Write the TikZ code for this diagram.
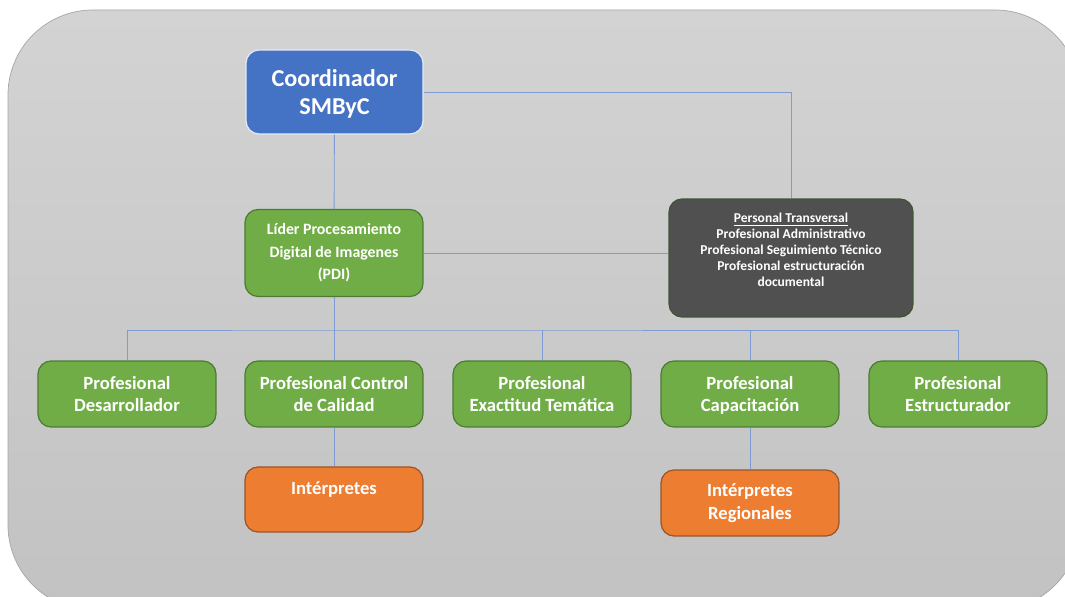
\documentclass[tikz,border=0pt]{standalone}
\usepackage{fontspec}
\setmainfont{Carlito}
\usetikzlibrary{positioning}

\definecolor{coordblue}{HTML}{4472C4}
\definecolor{leafgreen}{HTML}{70AD47}
\definecolor{leafedge}{HTML}{4E7B33}
\definecolor{transgray}{HTML}{505050}
\definecolor{transedge}{HTML}{3F5530}
\definecolor{interorange}{HTML}{ED7D31}
\definecolor{interedge}{HTML}{9A5528}
\definecolor{linkblue}{HTML}{7D9CD4}
\definecolor{bgtop}{HTML}{D3D3D3}
\definecolor{bgbottom}{HTML}{C2C2C2}

\tikzset{
    orgbox/.style={rounded corners=0.26cm, align=center, text=white,
        font=\bfseries, line width=0.7pt, inner sep=0pt},
    leafbox/.style={orgbox, fill=leafgreen, draw=leafedge,
        minimum width=3.56cm, minimum height=1.32cm,
        font=\fontsize{10.6}{13}\selectfont\bfseries},
    link/.style={draw=linkblue, line width=0.5pt}
}

\begin{document}
\begin{tikzpicture}[x=0.02cm, y=-0.02cm]

    % Frame
    \useasboundingbox (0,0) rectangle (1065,597);
    \begin{scope}
        \clip (0,0) rectangle (1065,597);
        \shade[top color=bgtop, bottom color=bgbottom, draw=gray!70,
            rounded corners=1.7cm] (8,10) rectangle (1080,610);
    \end{scope}

    % Top level
    \node[orgbox, fill=coordblue, draw=white!85!coordblue,
        minimum width=3.54cm, minimum height=1.68cm, text depth=0pt,
        font=\fontsize{13.8}{16}\selectfont\bfseries]
        (coord) at (334.5,92) {Coordinador\\SMByC};

    % Second level
    \node[leafbox, minimum height=1.74cm,
        font=\fontsize{9}{12.8}\selectfont\bfseries]
        (lider) at (334,253) {Líder Procesamiento\\Digital de Imagenes\\(PDI)};
    \node[orgbox, fill=transgray, draw=transedge,
        minimum width=4.88cm, minimum height=2.36cm,
        font=\fontsize{7.7}{9.2}\selectfont\bfseries]
        (transv) at (791,258) {\underline{Personal Transversal}\\Profesional Administrativo\\
        Profesional Seguimiento Técnico\\Profesional estructuración\\documental\\~};

    % Professionals
    \node[leafbox] (desarr) at (127,394) {Profesional\\Desarrollador};
    \node[leafbox] (calidad) at (334,394) {Profesional Control\\de Calidad};
    \node[leafbox] (exact) at (542,394) {Profesional\\Exactitud Temática};
    \node[leafbox, text depth=0pt] (capac) at (750,394) {Profesional\\Capacitación};
    \node[leafbox] (estruct) at (958,394) {Profesional\\Estructurador};

    % Interpreters
    \node[leafbox, fill=interorange, draw=interedge, minimum height=1.3cm]
        (interp) at (334,499.5) {Intérpretes\\~};
    \node[leafbox, fill=interorange, draw=interedge]
        (regional) at (750,503) {Intérpretes\\Regionales};

    % Connectors
    \coordinate (bus) at (334,330);
    \draw[link] (coord) -- (lider);
    \draw[link] (coord.east) -| (transv.north);
    \draw[link] (lider.east) -- (lider.east -| transv.west);
    \draw[link] (lider) -- (bus);
    \draw[link] (desarr.north) |- (bus) -| (estruct.north);
    \foreach \n in {calidad, exact, capac}
        \draw[link] (\n.north) -- (\n.north |- bus);
    \draw[link] (calidad) -- (interp);
    \draw[link] (capac) -- (regional);

\end{tikzpicture}
\end{document}
